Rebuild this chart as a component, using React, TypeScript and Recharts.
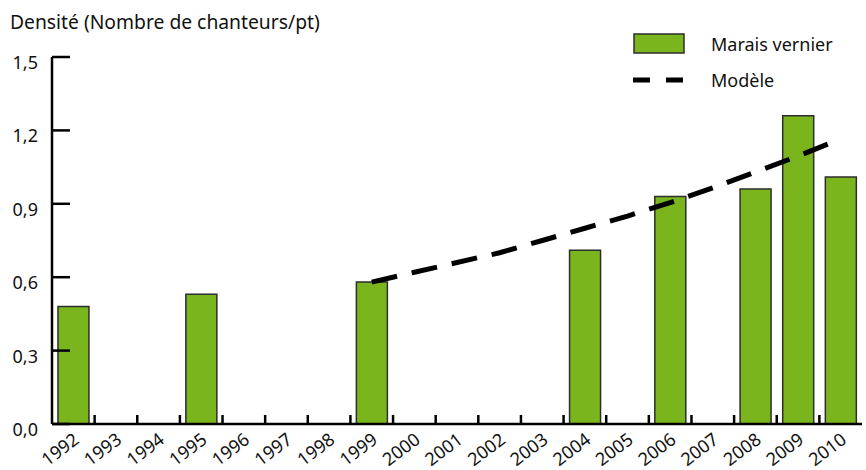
import { ComposedChart, Bar, Line, XAxis, YAxis } from 'recharts';

const years = [
  '1992', '1993', '1994', '1995', '1996', '1997', '1998', '1999', '2000', '2001',
  '2002', '2003', '2004', '2005', '2006', '2007', '2008', '2009', '2010',
];

// Marais vernier observed density (chanteurs/pt)
const density = [
  0.48, null, null, 0.53, null, null, null, 0.58, null, null,
  null, null, 0.71, null, 0.93, null, 0.96, 1.26, 1.01,
];

// Modèle (trend line)
const model = [
  null, null, null, null, null, null, null, 0.58, 0.62, 0.66,
  0.70, 0.75, 0.80, 0.85, 0.905, 0.965, 1.03, 1.095, 1.165,
];

const yTicks = [0, 0.3, 0.6, 0.9, 1.2, 1.5];

const data = years.map((year, i) => ({ year, density: density[i], model: model[i] }));

const W = 866;
const H = 470;
const LEFT = 52;
const RIGHT = 4;
const TICK_MARGIN = 14;
const FONT = '"Noto Sans", sans-serif';
const fmt = (v: number) => v.toFixed(1).replace('.', ',');

function YTick(props: any) {
  const { x, y, payload } = props;
  const axisX = x + TICK_MARGIN;
  const band = (W - LEFT - RIGHT) / years.length;
  return (
    <g>
      <line x1={axisX} x2={axisX + 18} y1={y} y2={y} stroke="#000" strokeWidth={2.5} />
      {/* category boundary ticks along the x axis, pointing inward */}
      {payload.value === 0 &&
        years.slice(1).map((yr, i) => (
          <line
            key={yr}
            x1={axisX + band * (i + 1)}
            x2={axisX + band * (i + 1)}
            y1={y - 1}
            y2={y - 9}
            stroke="#000"
            strokeWidth={2.5}
          />
        ))}
      <text x={x} y={y} dy={12} textAnchor="end" fontSize={18} fontFamily={FONT} fill="#111">
        {fmt(payload.value)}
      </text>
    </g>
  );
}

function XTick(props: any) {
  const { x, y, payload } = props;
  const tx = x + 7;
  const ty = y + 16;
  return (
    <text
      x={tx}
      y={ty}
      textAnchor="end"
      fontSize={18}
      fontFamily={FONT}
      fill="#111"
      transform={`rotate(-37, ${tx}, ${ty})`}
    >
      {payload.value}
    </text>
  );
}

function LegendBox() {
  return (
    <div
      style={{
        position: 'absolute',
        left: 633,
        top: 26,
        fontFamily: FONT,
        fontSize: 18,
        color: '#111',
      }}
    >
      <div style={{ display: 'flex', alignItems: 'center', height: 36 }}>
        <svg width={78} height={22}>
          <rect x={1} y={1} width={50} height={19} fill="#7ab51d" stroke="#2d2d2d" strokeWidth={1.5} />
        </svg>
        <span>Marais vernier</span>
      </div>
      <div style={{ display: 'flex', alignItems: 'center', height: 36 }}>
        <svg width={78} height={22}>
          <line x1={0} x2={52} y1={11} y2={11} stroke="#000" strokeWidth={5} strokeDasharray="17 16" />
        </svg>
        <span>Modèle</span>
      </div>
    </div>
  );
}

export default function App() {
  return (
    <div style={{ position: 'absolute', left: 0, top: 0, width: W, height: H, background: '#fff' }}>
      <div
        style={{
          position: 'absolute',
          left: 10,
          top: 8,
          fontFamily: FONT,
          fontSize: 19.3,
          color: '#111',
        }}
      >
        Densité (Nombre de chanteurs/pt)
      </div>
      <LegendBox />
      <ComposedChart
        width={W}
        height={H}
        data={data}
        margin={{ top: 57, right: RIGHT, bottom: 0, left: 0 }}
        barCategoryGap="14%"
      >
        <XAxis
          dataKey="year"
          interval={0}
          height={46}
          axisLine={{ stroke: '#000', strokeWidth: 2.5 }}
          tickLine={false}
          tickSize={0}
          tick={<XTick />}
        />
        <YAxis
          domain={[0, 1.5]}
          ticks={yTicks}
          width={LEFT}
          axisLine={{ stroke: '#000', strokeWidth: 2.5 }}
          tickLine={false}
          tickSize={0}
          tickMargin={TICK_MARGIN}
          tick={<YTick />}
        />
        <Bar
          dataKey="density"
          name="Marais vernier"
          fill="#7ab51d"
          stroke="#2d2d2d"
          strokeWidth={1.5}
          isAnimationActive={false}
        />
        <Line
          dataKey="model"
          name="Modèle"
          type="linear"
          stroke="#000"
          strokeWidth={5}
          strokeDasharray="26 15"
          dot={false}
          activeDot={false}
          isAnimationActive={false}
        />
      </ComposedChart>
    </div>
  );
}
